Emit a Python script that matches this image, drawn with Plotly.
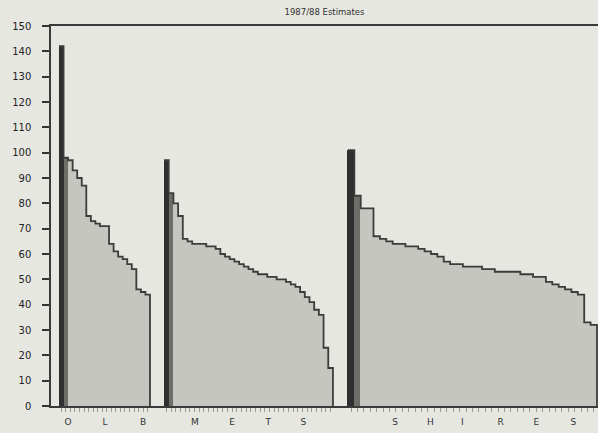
import plotly.graph_objects as go

# ---- data ----
olb = [142, 98, 97, 93, 90, 87, 75, 73, 72, 71, 71, 64, 61, 59, 58, 56, 54, 46, 45, 44]
mets = [97, 84, 80, 75, 66, 65, 64, 64, 64, 63, 63, 62, 60, 59, 58, 57, 56, 55, 54, 53,
        52, 52, 51, 51, 50, 50, 49, 48, 47, 45, 43, 41, 38, 36, 23, 15]
shires = [101, 83, 78, 78, 67, 66, 65, 64, 64, 63, 63, 62, 61, 60, 59, 57, 56, 56, 55, 55,
          55, 54, 54, 53, 53, 53, 53, 52, 52, 51, 51, 49, 48, 47, 46, 45, 44, 33, 32]
group_letters = [["O", "L", "B"], ["M", "E", "T", "S"], ["S", "H", "I", "R", "E", "S"]]
letter_pos = [[1.5, 9.6, 18.0], [6.1, 14.0, 21.7, 29.2], [6.9, 12.4, 17.4, 23.4, 29.0, 34.8]]
y_ticks = list(range(0, 151, 10))
title_text = "1987/88 Estimates"

groups = [olb, mets, shires]
domains = [[0.0, 0.19378], [0.19378, 0.52925], [0.52925, 1.0]]
pads = [(1.76, 1.54), (1.5, 1.61), (1.17, 0.16)]

BG = "#e7e7e1"
DARK = "#2f2f2f"
FILL = "#c6c6c0"

fig = go.Figure()
for gi, vals in enumerate(groups):
    n = len(vals)
    xa = "x" if gi == 0 else f"x{gi+1}"
    colors = [FILL] * n
    colors[0] = DARK
    colors[1] = "#6e6e69"
    fig.add_trace(go.Bar(
        x=list(range(n)), y=vals, xaxis=xa, yaxis="y",
        marker=dict(color=colors, line=dict(width=0)),
        width=1.0, showlegend=False,
    ))
    # stepped dark outline along bar tops
    sx = [i - 0.5 for i in range(n)] + [n - 0.5, n - 0.5]
    sy = list(vals) + [vals[-1], 0]
    fig.add_trace(go.Scatter(
        x=sx, y=sy, xaxis=xa, yaxis="y", mode="lines",
        line=dict(color="#3c3c3a", width=1.8, shape="hv"),
        showlegend=False, hoverinfo="skip",
    ))

layout_axes = {}
for gi, vals in enumerate(groups):
    n = len(vals)
    key = "xaxis" if gi == 0 else f"xaxis{gi+1}"
    layout_axes[key] = dict(
        domain=domains[gi],
        anchor="y",
        range=[-0.5 - pads[gi][0], n - 0.5 + pads[gi][1]],
        showgrid=False, zeroline=False, automargin=False,
        showline=True, mirror=True, linecolor="#3a3a3a", linewidth=1.5,
        tickmode="array", tickvals=letter_pos[gi], ticktext=group_letters[gi],
        ticks="", ticklabelstandoff=6,
        tickfont=dict(family="DejaVu Sans", size=9, color="#333333"),
        minor=dict(ticks="outside", ticklen=4, tickwidth=1, tickcolor="#9a9a96",
                   tickmode="array", tickvals=list(range(n)), showgrid=False),
        fixedrange=True,
    )

fig.update_layout(
    **layout_axes,
    yaxis=dict(
        domain=[0, 1], anchor="x", range=[0, 150], automargin=False,
        tickmode="array", tickvals=y_ticks,
        ticks="outside", ticklen=7, tickwidth=1.5, tickcolor="#333333",
        ticklabelstandoff=9,
        tickfont=dict(family="DejaVu Sans", size=10, color="#222222"),
        showgrid=False, zeroline=False,
        showline=True, linecolor="#3a3a3a", linewidth=1.5,
        fixedrange=True,
    ),
    title=dict(text=title_text, x=0.5, xref="paper", y=0.972, yref="container",
               xanchor="center", yanchor="middle",
               font=dict(family="DejaVu Sans", size=8.5, color="#333333")),
    bargap=0,
    width=598, height=433,
    margin=dict(l=51, r=0, t=26, b=27, autoexpand=False),
    paper_bgcolor=BG, plot_bgcolor=BG,
)

fig.write_html(
    "out.html",
    config={"displayModeBar": False},
    post_script="document.body.style.margin='0';document.body.style.background='" + BG + "';",
)
